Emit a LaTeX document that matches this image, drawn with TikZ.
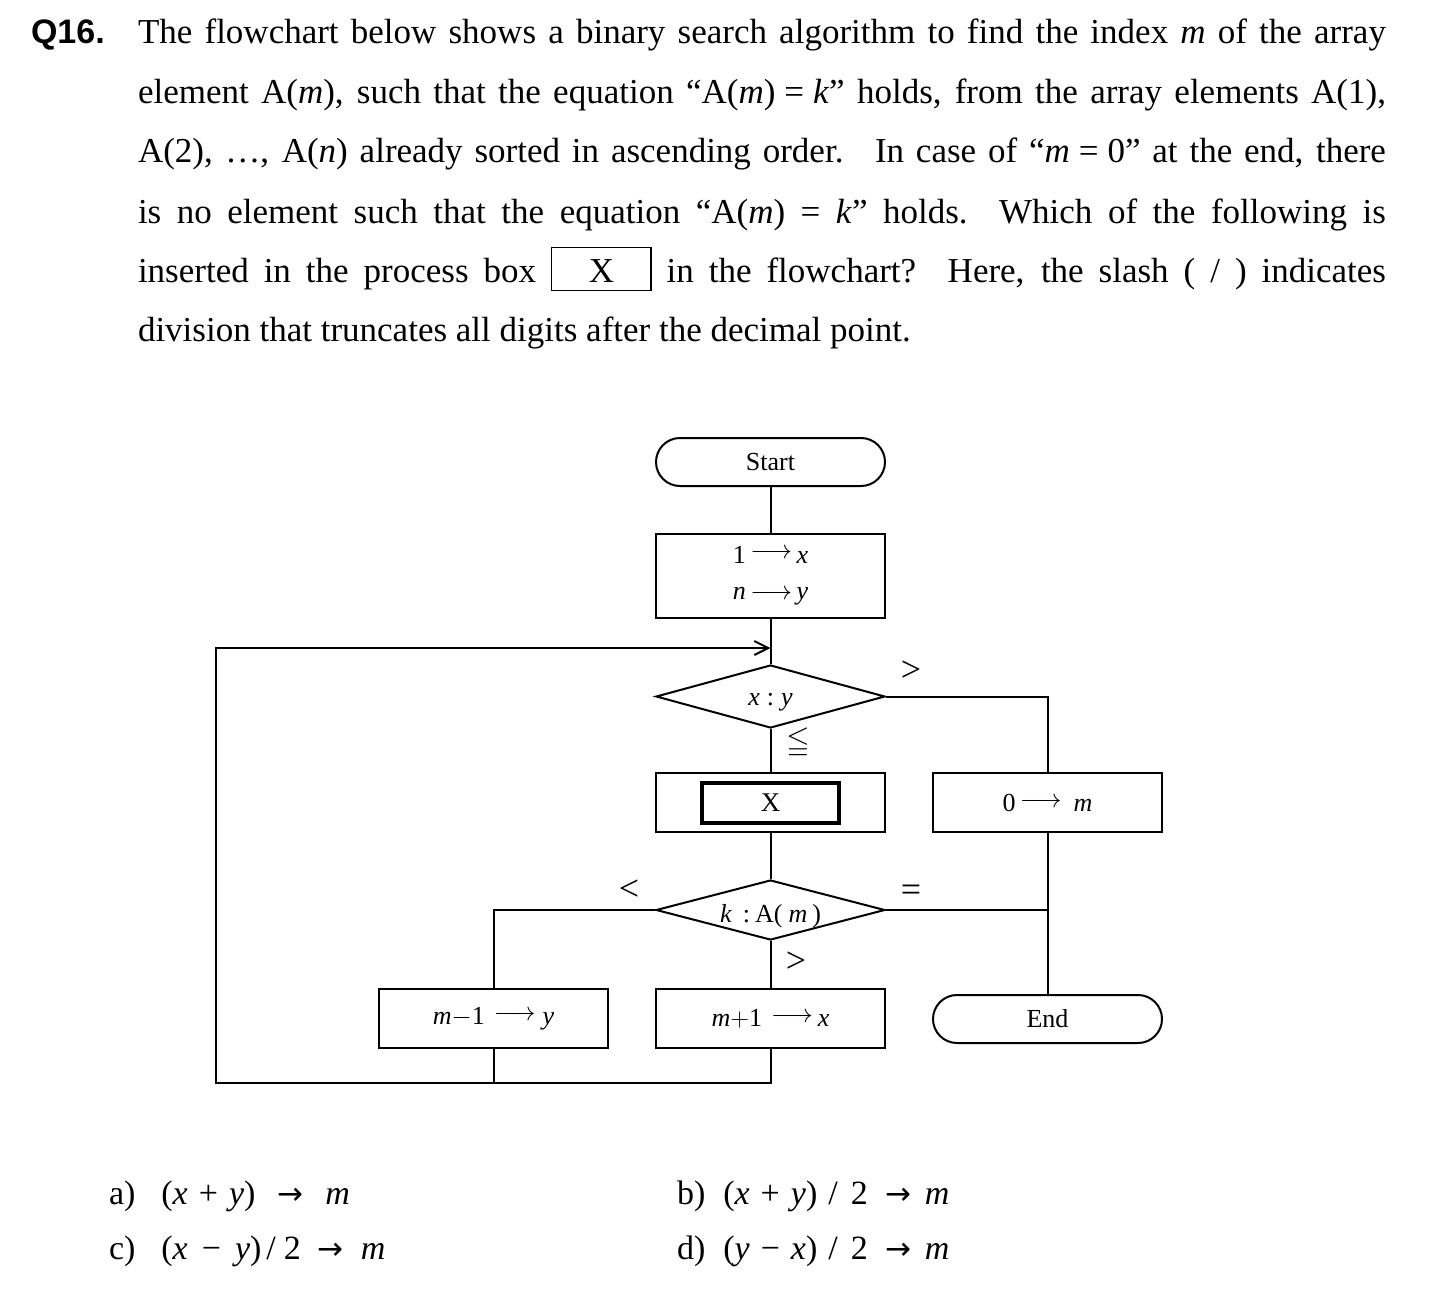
\RequirePackage{fix-cm}
\documentclass[tikz,border=0pt]{standalone}
\usepackage{amssymb}
\usepackage{fontspec}
\setmainfont{Liberation Serif}
\newfontfamily\qfont{Liberation Sans}
\newfontfamily\djv{DejaVu Sans}
\usetikzlibrary{shapes.geometric,shapes.misc,arrows.meta}
\newcommand{\charr}{{\djv\fontsize{31}{31}\selectfont →}}
\begin{document}
\begin{tikzpicture}[x=1pt,y=-1pt, line width=2pt,
  proc/.style={draw, rectangle, minimum width=229pt, inner sep=0pt, align=center, font=\fontsize{26}{36}\selectfont},
  term/.style={draw, rounded rectangle, minimum width=229pt, minimum height=48pt, inner sep=0pt, font=\fontsize{26}{30}\selectfont},
  dec/.style={draw, diamond, shape aspect=3.6, minimum width=229pt, inner sep=0pt, font=\fontsize{26}{30}\selectfont},
  lbl/.style={inner sep=0pt, font=\fontsize{36}{36}\selectfont},
  txt/.style={anchor=base west, inner sep=0pt, font=\fontsize{35}{60}\selectfont},
  chc/.style={anchor=base west, inner sep=0pt, font=\fontsize{34}{40}\selectfont},
  tip/.style={-{Straight Barb[length=14pt,width=14pt]}}
]
\fill[white] (0,0) rectangle (1450,1300);
\useasboundingbox (0,0) rectangle (1450,1300);

% question text
\node[anchor=base west, inner sep=0pt, font=\qfont\bfseries\fontsize{34}{40}\selectfont] (q) at (30,44) {Q16.};
\node[txt] (l1) at (137,44) {\makebox[1248pt][s]{The flowchart below shows a binary search algorithm to find the index \textit{m} of the array}};
\node[txt] (l2) at (137,104) {\makebox[1248pt][s]{element A(\textit{m}), such that the equation “A(\textit{m})\hspace{9pt}=\hspace{9pt}\textit{k}” holds, from the array elements A(1),}};
\node[txt] (l3) at (137,163) {\makebox[1248pt][s]{A(2), …, A(\textit{n}) already sorted in ascending order.\hspace{0.9em}In case of “\textit{m}\hspace{9pt}=\hspace{9pt}0” at the end, there}};
\node[txt] (l4) at (137,223) {\makebox[1248pt][s]{is no element such that the equation “A(\textit{m}) = \textit{k}” holds.\hspace{0.9em}Which of the following is}};
\node[txt] (l5) at (137,282) {\makebox[1248pt][s]{inserted in the process box {\fboxrule=1.3pt\fboxsep=0pt\fbox{\makebox[98pt]{\rule[-8pt]{0pt}{42pt}X}}} in the flowchart?\hspace{0.9em}Here, the slash ( / ) indicates}};
\node[txt] (l6) at (137,341) {division that truncates all digits after the decimal point.};

% flowchart nodes
\node[term] (start) at (770.5,462) {Start};
\node[proc, minimum height=84pt] (b1) at (770.5,576) {1\,\raisebox{5pt}{$\longrightarrow$}\,\textit{x}\\\textit{n}\,$\longrightarrow$\,\textit{y}};
\node[dec, minimum height=63pt, text height=20pt, text depth=2pt] (d1) at (770.5,696.5) {\textit{x}\hspace{7pt}:\hspace{7pt}\textit{y}};
\node[proc, minimum height=59pt] (bx) at (770.5,802.5) {};
\node[draw, line width=4pt, minimum width=137pt, minimum height=40pt, inner sep=0pt, font=\fontsize{27}{30}\selectfont] (bxi) at (770.5,803) {X};
\node[proc, minimum height=59pt] (z) at (1047.5,802.5) {0\,\raisebox{4pt}{$\longrightarrow$}\hspace{12pt}\textit{m}};
\node[dec, minimum height=60pt, text height=24pt, text depth=0pt] (d2) at (770.5,910) {\textit{k}\hspace{11pt}:\hspace{5pt}A(\hspace{6pt}\textit{m}\hspace{5pt})};
\node[proc, minimum height=59pt] (mm) at (493.5,1018.5) {\textit{m}$-$1\hspace{9pt}\raisebox{4pt}{$\longrightarrow$}\hspace{7pt}\textit{y}};
\node[proc, minimum height=59pt] (mp) at (770.5,1018.5) {\textit{m}$+$1\hspace{9pt}\raisebox{4pt}{$\longrightarrow$}\hspace{5pt}\textit{x}};
\node[term] (end) at (1047.5,1019) {End};

% branch labels
\node[lbl] (gt1) at (911,671) {>};
\node[lbl, font=\fontsize{25}{25}\selectfont] (le) at (798,743) {\scalebox{1.2}{$\leqq$}};
\node[lbl] (lt) at (629,890) {<};
\node[lbl] (eq) at (911,893) {=};
\node[lbl] (gt2) at (796,962) {>};

% connectors
\coordinate (lb) at (216,1083);
\coordinate (join) at (770.5,648);
\draw (start) -- (b1);
\draw (b1) -- (d1);
\draw (d1) -- (bx);
\draw (bx) -- (d2);
\draw (d2) -- (mp);
\draw (d1.east) -| (z.north);
\draw (z.south) -- (end.north);
\draw (d2.east) -- (d2.east -| z.south);
\draw (d2.west) -| (mm.north);
\draw (mm.south) -- (mm.south |- lb);
\draw[tip] (mp.south) |- (lb) |- (join);

% answer choices
\node[chc] (ca) at (108,1204) {a)\hspace{26pt}(\textit{x}\hspace{11pt}+\hspace{11pt}\textit{y})\hspace{22pt}\charr\hspace{22pt}\textit{m}};
\node[chc] (cb) at (676,1204) {b)\hspace{18pt}(\textit{x}\hspace{11pt}+\hspace{11pt}\textit{y})\hspace{11pt}/\hspace{13pt}2\hspace{18pt}\charr\hspace{13pt}\textit{m}};
\node[chc] (cc) at (108,1259) {c)\hspace{26pt}(\textit{x}\hspace{14pt}−\hspace{14pt}\textit{y})\hspace{5pt}/\hspace{8pt}2\hspace{17pt}\charr\hspace{17pt}\textit{m}};
\node[chc] (cd) at (676,1259) {d)\hspace{18pt}(\textit{y}\hspace{11pt}−\hspace{11pt}\textit{x})\hspace{11pt}/\hspace{13pt}2\hspace{18pt}\charr\hspace{13pt}\textit{m}};
\end{tikzpicture}
\end{document}
